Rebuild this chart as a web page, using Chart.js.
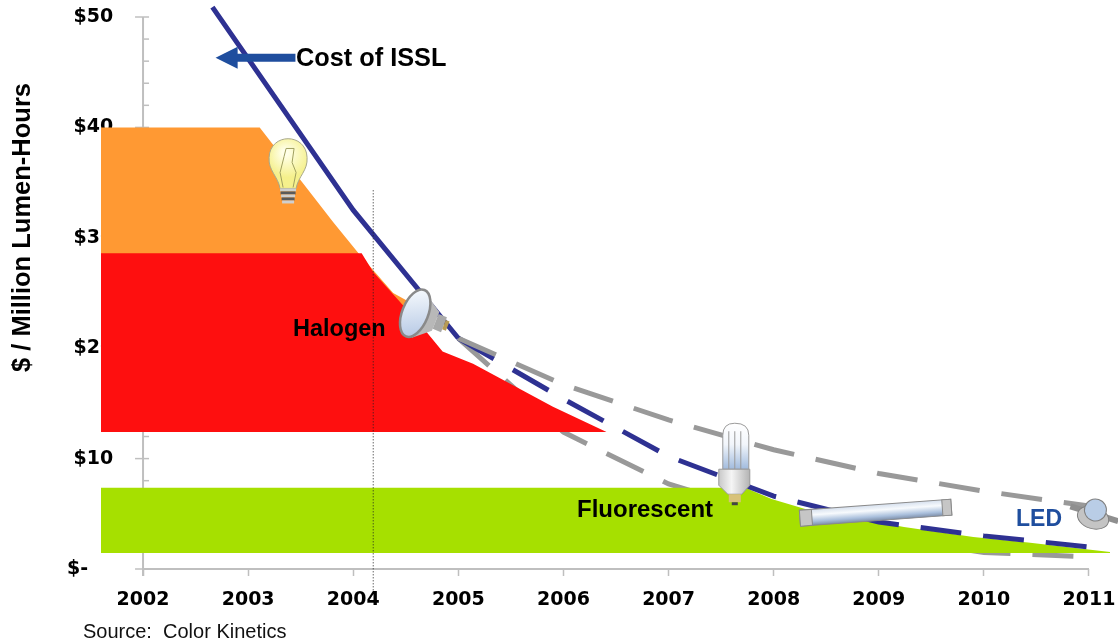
<!DOCTYPE html>
<html>
<head>
<meta charset="utf-8">
<title>Cost of ISSL</title>
<script src="https://cdn.jsdelivr.net/npm/chart.js@4"></script>
<style>
  html, body { margin: 0; padding: 0; background: #fff; }
  canvas { display: block; }
</style>
</head>
<body>
<canvas id="chart" width="1118" height="642"></canvas>
<script>
// Data stores (x = year, y = $ / million lumen-hours)
const yearTicks = [2002, 2003, 2004, 2005, 2006, 2007, 2008, 2009, 2010, 2011];
const costLabels = ['$-', ' $10', ' $20', ' $30', ' $40', ' $50'];

const isslYears = [2002.66, 2004, 2005];
const isslCost = [50.9, 32.5, 20.9];

const ledYears = [2005, 2006, 2007, 2008, 2009, 2010, 2011];
const ledCost = [20.9, 15.4, 10.2, 6.6, 4.25, 3.0, 2.0];
const upperYears = [2005, 2006, 2007, 2008, 2009, 2010, 2011];
const upperCost = [20.9, 16.7, 13.5, 10.8, 8.65, 7.05, 5.7];
const lowerYears = [2005, 2006, 2007, 2008, 2009, 2010, 2011];
const lowerCost = [20.9, 12.4, 7.7, 4.8, 2.9, 1.5, 1.1];

const incYears = [2001.6, 2003.11, 2003.81, 2004.05, 2004.38, 2004.53];
const incCost = [40, 40, 31.4, 28.6, 25.0, 24.2];
const incBase = 20;
const halYears = [2001.6, 2004.08, 2004.19, 2004.66, 2004.85, 2005.14, 2005.9, 2006.41];
const halCost = [28.6, 28.6, 26.9, 21.9, 19.7, 18.6, 14.7, 12.4];
const halBase = 12.4;
const fluYears = [2001.6, 2007.73, 2007.98, 2008.38, 2008.98, 2009.24, 2009.9, 2010.42, 2011.2];
const fluCost = [7.35, 7.35, 6.35, 5.2, 4.25, 3.8, 2.9, 2.4, 1.55];
const fluBase = 1.45;

const markerYears = [2004.19, 2004.19];
const markerCost = [34.3, -2.1];

const FONT = '"Liberation Sans", Arial, sans-serif';
const TICK_FONT = '"DejaVu Sans", sans-serif';
const GREY_AXIS = '#bfbfbf';

function pts(xs, ys) {
  return xs.map((x, i) => ({ x, y: ys[i] }));
}

function areaSet(xs, ys, color, base, order) {
  return { data: pts(xs, ys), borderWidth: 0, borderColor: color, backgroundColor: color,
           fill: { value: base }, pointRadius: 0, tension: 0, clip: false, order };
}
function lineSet(xs, ys, color, width, dash, order) {
  return { data: pts(xs, ys), borderColor: color, borderWidth: width, borderDash: dash,
           borderCapStyle: 'butt', fill: false, pointRadius: 0, tension: 0, clip: false, order };
}

// Lamp pictures, drawn around a pixel position
function bulbIcon(c, x, y) {
  c.save();
  c.translate(x, y);
  const g = c.createRadialGradient(-3, -18, 3, 0, -15, 22);
  g.addColorStop(0, '#ffffe8');
  g.addColorStop(1, '#f5f08c');
  c.fillStyle = g;
  c.strokeStyle = '#a8a88a';
  c.lineWidth = 1;
  c.beginPath();
  c.moveTo(-8, 18);
  c.bezierCurveTo(-10, 6, -20, 0, -19, -13);
  c.bezierCurveTo(-18, -38, 18, -38, 19, -13);
  c.bezierCurveTo(20, 0, 10, 6, 8, 18);
  c.closePath();
  c.fill();
  c.stroke();
  c.strokeStyle = '#a0a060';
  c.beginPath();
  c.moveTo(-5, 17); c.lineTo(-8, 2); c.lineTo(-4, -14); c.lineTo(-2, -22);
  c.lineTo(6, -22); c.lineTo(4, -8); c.lineTo(8, 2); c.lineTo(5, 17);
  c.stroke();
  for (let i = 0; i < 5; i++) {
    c.fillStyle = i % 2 ? '#5a5a5a' : '#cfcfcf';
    c.fillRect(-8 + i * 0.5, 18 + i * 3, 16 - i, 3);
  }
  c.restore();
}

function halogenIcon(c, x, y) {
  c.save();
  c.translate(x, y);
  c.rotate(0.38);
  c.fillStyle = '#b8b8b8';
  c.beginPath();
  c.moveTo(-8, -24); c.lineTo(14, -10); c.lineTo(14, 10); c.lineTo(-2, 24);
  c.closePath();
  c.fill();
  c.fillStyle = '#a9a9a9';
  c.fillRect(14, -8, 9, 16);
  c.fillStyle = '#b79b55';
  c.fillRect(23, -5, 4, 10);
  const g = c.createLinearGradient(-18, -20, 2, 20);
  g.addColorStop(0, '#f4f8fc');
  g.addColorStop(1, '#b9cbe6');
  c.fillStyle = g;
  c.strokeStyle = '#8a8a8a';
  c.lineWidth = 2.5;
  c.beginPath();
  c.ellipse(-8, 0, 13, 25, 0, 0, Math.PI * 2);
  c.fill();
  c.stroke();
  c.restore();
}

function cflIcon(c, x, y) {
  c.save();
  c.translate(x, y);
  const g = c.createLinearGradient(0, -42, 0, 5);
  g.addColorStop(0, '#ffffff');
  g.addColorStop(0.45, '#f2f6fb');
  g.addColorStop(1, '#9db8dc');
  c.fillStyle = g;
  c.strokeStyle = '#9a9a9a';
  c.lineWidth = 1;
  c.beginPath();
  c.moveTo(-12, 4); c.lineTo(-12, -30);
  c.quadraticCurveTo(-12, -42, 0, -42);
  c.quadraticCurveTo(14, -42, 14, -30);
  c.lineTo(14, 4);
  c.closePath();
  c.fill();
  c.stroke();
  [-6, 0, 6].forEach(dx => {
    c.beginPath();
    c.moveTo(dx, 4); c.lineTo(dx, -34);
    c.stroke();
  });
  const b = c.createLinearGradient(-16, 0, 16, 0);
  b.addColorStop(0, '#c8c8c8');
  b.addColorStop(0.4, '#f5f5f5');
  b.addColorStop(1, '#b0b0b0');
  c.fillStyle = b;
  c.beginPath();
  c.moveTo(-16, 4); c.lineTo(15, 4); c.lineTo(15, 20); c.lineTo(7, 29); c.lineTo(-7, 29); c.lineTo(-16, 20);
  c.closePath();
  c.fill();
  c.stroke();
  c.fillStyle = '#d8c27a';
  c.fillRect(-6, 29, 12, 8);
  c.fillStyle = '#444';
  c.fillRect(-3, 37, 6, 3);
  c.restore();
}

function tubeIcon(c, x0, y0, x1, y1) {
  const len = Math.hypot(x1 - x0, y1 - y0);
  c.save();
  c.translate(x0, y0);
  c.rotate(Math.atan2(y1 - y0, x1 - x0));
  const g = c.createLinearGradient(0, -8, 0, 8);
  g.addColorStop(0, '#d6e0ee');
  g.addColorStop(0.35, '#f7fafd');
  g.addColorStop(0.75, '#a9bfdc');
  g.addColorStop(1, '#7d8ea8');
  c.fillStyle = g;
  c.fillRect(0, -8, len, 16);
  c.strokeStyle = '#8a8a8a';
  c.lineWidth = 1;
  c.strokeRect(0, -8, len, 16);
  c.fillStyle = '#c6c6c6';
  c.fillRect(0, -8, 12, 16);
  c.strokeRect(0, -8, 12, 16);
  c.fillRect(len - 9, -8, 9, 16);
  c.strokeRect(len - 9, -8, 9, 16);
  c.restore();
}

function ledIcon(c, x, y) {
  c.save();
  c.translate(x, y);
  c.rotate(0.3);
  c.fillStyle = '#8f8f8f';
  c.fillRect(-25, -3, 50, 6);
  c.fillStyle = '#c4c4c4';
  c.strokeStyle = '#808080';
  c.lineWidth = 1;
  c.beginPath();
  c.ellipse(0, 4, 16, 11, 0, 0, Math.PI * 2);
  c.fill();
  c.stroke();
  c.fillStyle = '#b9cde6';
  c.beginPath();
  c.arc(0, -4, 11, 0, Math.PI * 2);
  c.fill();
  c.stroke();
  c.restore();
}

const overlayPlugin = {
  id: 'overlay',
  beforeDatasetsDraw(chart) {
    // axis lines and tick marks, the plot area is wider than the axes
    const { ctx, scales } = chart;
    const ys = scales.y;
    const xs = scales.x;
    const ax = xs.getPixelForValue(yearTicks[0]);
    const az = ys.getPixelForValue(0);
    ctx.save();
    ctx.strokeStyle = GREY_AXIS;
    ctx.lineWidth = 2;
    ctx.beginPath();
    ctx.moveTo(ax, ys.getPixelForValue(50));
    ctx.lineTo(ax, az + 7);
    ctx.moveTo(ax, az);
    ctx.lineTo(xs.getPixelForValue(yearTicks[yearTicks.length - 1]), az);
    ctx.stroke();
    ctx.lineWidth = 1.5;
    ys.ticks.forEach(t => {
      const p = ys.getPixelForValue(t.value);
      ctx.beginPath();
      ctx.moveTo(t.value % 10 === 0 ? ax - 8 : ax, p);
      ctx.lineTo(ax + 6, p);
      ctx.stroke();
    });
    ctx.restore();
  },
  afterDraw(chart) {
    const { ctx, scales } = chart;
    const px = v => scales.x.getPixelForValue(v);
    const py = v => scales.y.getPixelForValue(v);

    bulbIcon(ctx, px(2003.38), py(36.1));
    halogenIcon(ctx, px(2004.66), py(22.9));
    cflIcon(ctx, px(2007.63), py(9.4));
    tubeIcon(ctx, px(2008.25), py(4.6), px(2009.69), py(5.6));
    ledIcon(ctx, px(2011.05), py(5));

    // arrow pointing at the ISSL line
    const ay = py(46.3);
    ctx.fillStyle = '#1f4e9e';
    ctx.beginPath();
    ctx.moveTo(px(2002.69), ay);
    ctx.lineTo(px(2002.9), ay - 11);
    ctx.lineTo(px(2002.9), ay - 4);
    ctx.lineTo(px(2003.45), ay - 4);
    ctx.lineTo(px(2003.45), ay + 4);
    ctx.lineTo(px(2002.9), ay + 4);
    ctx.lineTo(px(2002.9), ay + 11);
    ctx.closePath();
    ctx.fill();

    ctx.textBaseline = 'alphabetic';
    ctx.textAlign = 'left';
    ctx.fillStyle = '#000';
    ctx.font = 'bold 25.3px ' + FONT;
    ctx.fillText('Cost of ISSL', 296, 66);
    ctx.font = 'bold 23.5px ' + FONT;
    ctx.fillText('Halogen', 293, 336);
    ctx.font = 'bold 24px ' + FONT;
    ctx.fillText('Fluorescent', 577, 517);
    ctx.fillStyle = '#1f4e9e';
    ctx.font = 'bold 23px ' + FONT;
    ctx.fillText('LED', 1016, 526);
    ctx.fillStyle = '#111';
    ctx.font = '20px ' + FONT;
    ctx.fillText('Source:  Color Kinetics', 83, 638);

    ctx.save();
    ctx.translate(30, 372);
    ctx.rotate(-Math.PI / 2);
    ctx.fillStyle = '#000';
    ctx.font = 'bold 25.5px ' + FONT;
    ctx.fillText('$ / Million Lumen-Hours', 0, 0);
    ctx.restore();
  }
};

const chart = new Chart(document.getElementById('chart'), {
  type: 'line',
  data: {
    datasets: [
      lineSet(markerYears, markerCost, '#222', 1, [1, 2], 0),
      lineSet(isslYears, isslCost, '#2e3192', 5, [], 1),
      lineSet(upperYears, upperCost, '#999999', 5, [41, 22], 2),
      lineSet(ledYears, ledCost, '#2e3192', 5, [41, 22], 3),
      areaSet(fluYears, fluCost, '#a6e000', fluBase, 4),
      areaSet(halYears, halCost, '#fe0f0f', halBase, 5),
      areaSet(incYears, incCost, '#ff9933', incBase, 6),
      lineSet(lowerYears, lowerCost, '#999999', 5, [41, 22], 7)
    ]
  },
  options: {
    responsive: false,
    animation: false,
    layout: { autoPadding: false, padding: { top: 17, right: 0, left: 0, bottom: 0 } },
    plugins: { legend: { display: false }, tooltip: { enabled: false } },
    scales: {
      x: {
        type: 'linear',
        min: 2001.6,
        max: 2011.276,
        afterFit: s => { s.height = 73; s.paddingLeft = 0; s.paddingRight = 0; },
        afterBuildTicks: s => { s.ticks = yearTicks.map(v => ({ value: v })); },
        grid: { drawOnChartArea: false, tickLength: 7, tickColor: GREY_AXIS, tickWidth: 1.5 },
        border: { display: false },
        ticks: {
          callback: v => String(v),
          autoSkip: false,
          maxRotation: 0,
          padding: 13,
          color: '#000',
          font: { family: TICK_FONT, weight: 'bold', size: 19 }
        }
      },
      y: {
        min: 0,
        max: 50,
        afterFit: s => { s.width = 101; s.paddingTop = 0; s.paddingBottom = 0; },
        grid: { drawOnChartArea: false, drawTicks: false },
        border: { display: false },
        ticks: {
          stepSize: 2,
          autoSkip: false,
          mirror: true,
          padding: -34,
          color: '#000',
          font: { family: TICK_FONT, weight: 'bold', size: 19 },
          callback: v => (v % 10 === 0 ? costLabels[v / 10] : '')
        }
      }
    }
  },
  plugins: [overlayPlugin]
});
</script>
</body>
</html>
